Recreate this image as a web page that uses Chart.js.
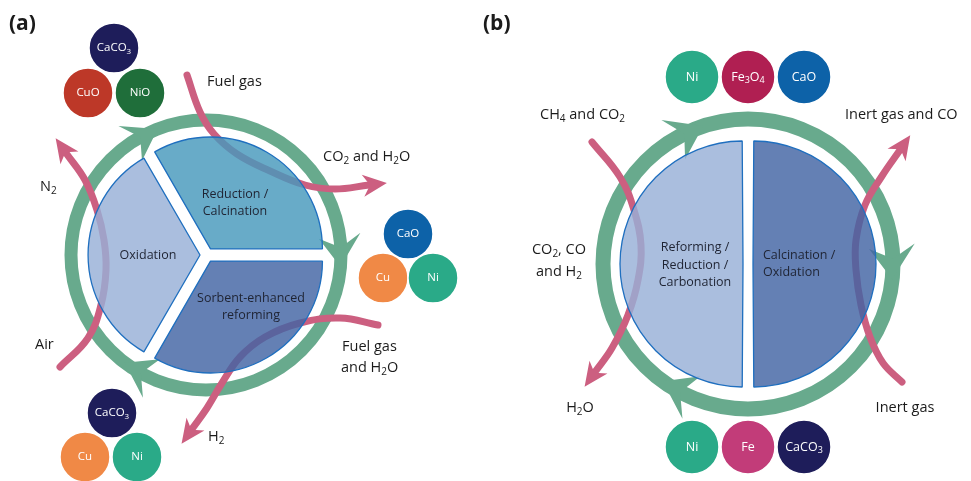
<!DOCTYPE html>
<html><head><meta charset="utf-8">
<script src="https://cdn.jsdelivr.net/npm/chart.js@4"></script>
<style>
html,body{margin:0;padding:0;background:#fff;}
#wrap{position:relative;width:971px;height:481px;overflow:hidden;background:#fff;}
#wrap canvas{position:absolute;left:0;top:0;}
</style></head><body>
<div id="wrap">
<canvas id="base" width="971" height="481"></canvas>
<canvas id="pieA" width="971" height="481"></canvas>
<canvas id="pieB" width="971" height="481"></canvas>
</div>
<script>
// ---------- data ----------
const pieALabels = ['Reduction / Calcination', 'Sorbent-enhanced reforming', 'Oxidation'];
const pieAValues = [1, 1, 1];
const pieBLabels = ['Calcination / Oxidation', 'Reforming / Reduction / Carbonation'];
const pieBValues = [1, 1];

const moleculesA  = ['CaCO_3', 'CuO', 'NiO', 'CaO', 'Cu', 'Ni', 'CaCO_3', 'Cu', 'Ni'];
const moleculesAX = [114, 88, 140, 408, 383, 433, 112, 85, 137];
const moleculesAY = [48, 93, 93, 234, 278, 278, 413, 457, 457];
const moleculesB  = ['Ni', 'Fe_3O_4', 'CaO', 'Ni', 'Fe', 'CaCO_3'];
const moleculesBX = [692, 748, 804, 692, 748, 804];
const moleculesBY = [77, 77, 77, 447, 447, 447];

// gas-flow arrows (path points, last point = end of shaft)
const arrowFuelGas = [[187,75],[200,112],[214,134],[237,154],[270,171],[305,185],[335,189],[369,185]];
const arrowAirN2   = [[60,367],[88,338],[101,305],[106,270],[104,240],[97,210],[85,180],[66,153]];
const arrowFuelH2  = [[378,325],[340,318],[300,323],[265,337],[240,357],[222,383],[207,408],[192,429]];
const arrowCH4H2O  = [[592,142],[620,177],[634,210],[641,245],[638,280],[628,315],[612,348],[595,372]];
const arrowInertCO = [[902,382],[883,363],[870,337],[861,305],[856,270],[856,240],[865,205],[882,176],[900,150]];

// text labels
const textLabels = [
  {t:'(a)', x:9, y:24, size:21, weight:'bold', align:'left'},
  {t:'(b)', x:483, y:24, size:21, weight:'bold', align:'left'},
  {t:'Fuel gas', x:207, y:82, align:'left'},
  {t:'CO_2 and H_2O', x:323, y:157, align:'left'},
  {t:'N_2', x:40, y:187, align:'left'},
  {t:'Air', x:35, y:345, align:'left'},
  {t:'Fuel gas', x:342, y:347, align:'left'},
  {t:'and H_2O', x:341, y:368, align:'left'},
  {t:'H_2', x:208, y:437, align:'left'},
  {t:'CH_4 and CO_2', x:540, y:115, align:'left'},
  {t:'Inert gas and CO', x:845, y:115, align:'left'},
  {t:'CO_2, CO', x:559, y:250, align:'center'},
  {t:'and H_2', x:559, y:272, align:'center'},
  {t:'H_2O', x:580, y:408, align:'center'},
  {t:'Inert gas', x:905, y:408, align:'center'}
];
const pieATexts = [
  {t:'Reduction /', x:235, y:194, align:'center'},
  {t:'Calcination', x:235, y:211, align:'center'},
  {t:'Oxidation', x:148, y:255, align:'center'},
  {t:'Sorbent-enhanced', x:251, y:298, align:'center'},
  {t:'reforming', x:251, y:315, align:'center'}
];
const pieBTexts = [
  {t:'Reforming /', x:695, y:247, align:'center'},
  {t:'Reduction /', x:695, y:265, align:'center'},
  {t:'Carbonation', x:695, y:282, align:'center'},
  {t:'Calcination /', x:763, y:255, align:'left'},
  {t:'Oxidation', x:763, y:272, align:'left'}
];

// ---------- styles ----------
const GREEN = '#68aa8d';
const PINK = '#cc5f80';
const FONT = '"Open Sans", "Noto Sans", sans-serif';
const molColors = {'CaCO_3':'#1e1d5a','CuO':'#bd3828','NiO':'#1f6e3a','CaO':'#0d62a8','Cu':'#f08946','Ni':'#2aaa88','Fe_3O_4':'#b01f52','Fe':'#c23c79'};
const ringGeom = [
  {cx:206, cy:255, r:135, w:13, tips:[-111, 5, 127], len:31, half:21},
  {cx:748, cy:264, r:145, w:15, tips:[-108, 6, 126], len:33, half:23}
];

function drawRich(ctx, str, x, y, size, align, color, weight) {
  const parts = [];
  for (let i = 0; i < str.length; i++) {
    if (str[i] === '_') { parts.push({t:str[i+1], sub:true}); i++; }
    else if (parts.length && !parts[parts.length-1].sub) parts[parts.length-1].t += str[i];
    else parts.push({t:str[i], sub:false});
  }
  const w8 = weight || 'normal';
  const fN = w8 + ' ' + size + 'px ' + FONT;
  const fS = w8 + ' ' + Math.round(size*0.72) + 'px ' + FONT;
  let total = 0;
  parts.forEach(p => { ctx.font = p.sub ? fS : fN; p.w = ctx.measureText(p.t).width; total += p.w; });
  let sx = align === 'center' ? x - total/2 : (align === 'right' ? x - total : x);
  ctx.save();
  ctx.fillStyle = color; ctx.textBaseline = 'middle'; ctx.textAlign = 'left';
  parts.forEach(p => { ctx.font = p.sub ? fS : fN; ctx.fillText(p.t, sx, y + (p.sub ? size*0.3 : 0)); sx += p.w; });
  ctx.restore();
}

const ringPlugin = {
  id: 'rings',
  beforeDatasetsDraw(chart) {
    const {ctx, scales:{x, y}} = chart;
    ringGeom.forEach(g => {
      const cx = x.getPixelForValue(g.cx), cy = y.getPixelForValue(g.cy);
      ctx.save();
      ctx.strokeStyle = GREEN; ctx.fillStyle = GREEN; ctx.lineWidth = g.w;
      ctx.beginPath(); ctx.arc(cx, cy, g.r, 0, Math.PI*2); ctx.stroke();
      g.tips.forEach(deg => {
        const t = deg*Math.PI/180, d = g.len/g.r;
        const b = t - d, n = t - d*0.62;
        const P = (a, rr) => [cx + Math.cos(a)*rr, cy + Math.sin(a)*rr];
        const pts = [P(t, g.r), P(b, g.r + g.half), P(n, g.r), P(b, g.r - g.half)];
        ctx.beginPath(); ctx.moveTo(pts[0][0], pts[0][1]);
        for (let i = 1; i < pts.length; i++) ctx.lineTo(pts[i][0], pts[i][1]);
        ctx.closePath(); ctx.fill();
      });
      ctx.restore();
    });
  }
};

const decoPlugin = {
  id: 'deco',
  afterDatasetsDraw(chart) {
    const {ctx, scales:{x, y}} = chart;
    chart.data.datasets.forEach((ds, i) => {
      const meta = chart.getDatasetMeta(i);
      if (ds.kind === 'arrow') {
        const pts = meta.data, last = pts[pts.length-1], prev = pts[pts.length-2];
        let dx = last.x - (last.cp1x ?? prev.x), dy = last.y - (last.cp1y ?? prev.y);
        if (Math.hypot(dx, dy) < 0.5) { dx = last.x - prev.x; dy = last.y - prev.y; }
        const L = Math.hypot(dx, dy); dx /= L; dy /= L;
        const px = -dy, py = dx;
        const tip = [last.x + dx*18, last.y + dy*18];
        const w1 = [last.x - dx*6 + px*11, last.y - dy*6 + py*11];
        const w2 = [last.x - dx*6 - px*11, last.y - dy*6 - py*11];
        const nt = [last.x + dx*1, last.y + dy*1];
        ctx.save(); ctx.fillStyle = PINK; ctx.beginPath();
        ctx.moveTo(tip[0], tip[1]); ctx.lineTo(w1[0], w1[1]); ctx.lineTo(nt[0], nt[1]); ctx.lineTo(w2[0], w2[1]);
        ctx.closePath(); ctx.fill(); ctx.restore();
      }
      if (ds.kind === 'mol') {
        meta.data.forEach((el, j) => drawRich(ctx, ds.names[j], el.x, el.y, ds.fontSize, 'center', '#ffffff'));
      }
    });
    textLabels.forEach(l => drawRich(ctx, l.t, x.getPixelForValue(l.x), y.getPixelForValue(l.y), l.size || 14.5, l.align, '#1b1b1b', l.weight));
  }
};

function arrowDataset(pts) {
  return {type:'line', kind:'arrow', data: pts.map(p => ({x:p[0], y:p[1]})), borderColor: PINK, borderWidth: 7,
    tension: 0.4, pointRadius: 0, borderCapStyle: 'round', fill: false, showLine: true, order: 2};
}
function molDataset(names, xs, ys, r, fs) {
  return {type:'scatter', kind:'mol', names: names, fontSize: fs, data: names.map((n, i) => ({x:xs[i], y:ys[i]})),
    pointRadius: r, pointBackgroundColor: names.map(n => molColors[n]), pointBorderColor: '#ffffff', pointBorderWidth: 1.5, order: 1};
}

new Chart(document.getElementById('base'), {
  type: 'scatter',
  data: {datasets: [
    arrowDataset(arrowFuelGas), arrowDataset(arrowAirN2), arrowDataset(arrowFuelH2),
    arrowDataset(arrowCH4H2O), arrowDataset(arrowInertCO),
    molDataset(moleculesA, moleculesAX, moleculesAY, 25, 11.5),
    molDataset(moleculesB, moleculesBX, moleculesBY, 27, 12.5)
  ]},
  options: {
    responsive: false, animation: false, events: [],
    layout: {padding: 0, autoPadding: false},
    plugins: {legend: {display: false}, tooltip: {enabled: false}},
    scales: {
      x: {type: 'linear', min: 0, max: 971, display: false},
      y: {type: 'linear', min: 0, max: 481, reverse: true, display: false}
    }
  },
  plugins: [ringPlugin, decoPlugin]
});

function pieTextPlugin(texts) {
  return {id: 'pieText', afterDatasetsDraw(chart) {
    texts.forEach(l => drawRich(chart.ctx, l.t, l.x, l.y, 12.5, l.align, '#1f2433'));
  }};
}

new Chart(document.getElementById('pieA'), {
  type: 'pie',
  data: {labels: pieALabels, datasets: [{data: pieAValues,
    backgroundColor: ['rgba(71,152,188,0.82)', 'rgba(66,100,164,0.82)', 'rgba(151,176,215,0.82)'],
    borderColor: '#1f6fbf', borderWidth: 1.3, offset: 28, rotation: -30, radius: 111}]},
  options: {responsive: false, animation: false, events: [],
    layout: {padding: {left: 0, right: 557, top: 29, bottom: 0}},
    plugins: {legend: {display: false}, tooltip: {enabled: false}}},
  plugins: [pieTextPlugin(pieATexts)]
});

new Chart(document.getElementById('pieB'), {
  type: 'pie',
  data: {labels: pieBLabels, datasets: [{data: pieBValues,
    backgroundColor: ['rgba(66,100,164,0.82)', 'rgba(151,176,215,0.82)'],
    borderColor: '#1f6fbf', borderWidth: 1.3, offset: 20, rotation: 0, radius: 118}]},
  options: {responsive: false, animation: false, events: [],
    layout: {padding: {left: 525, right: 0, top: 47, bottom: 0}},
    plugins: {legend: {display: false}, tooltip: {enabled: false}}},
  plugins: [pieTextPlugin(pieBTexts)]
});
</script>
</body></html>
